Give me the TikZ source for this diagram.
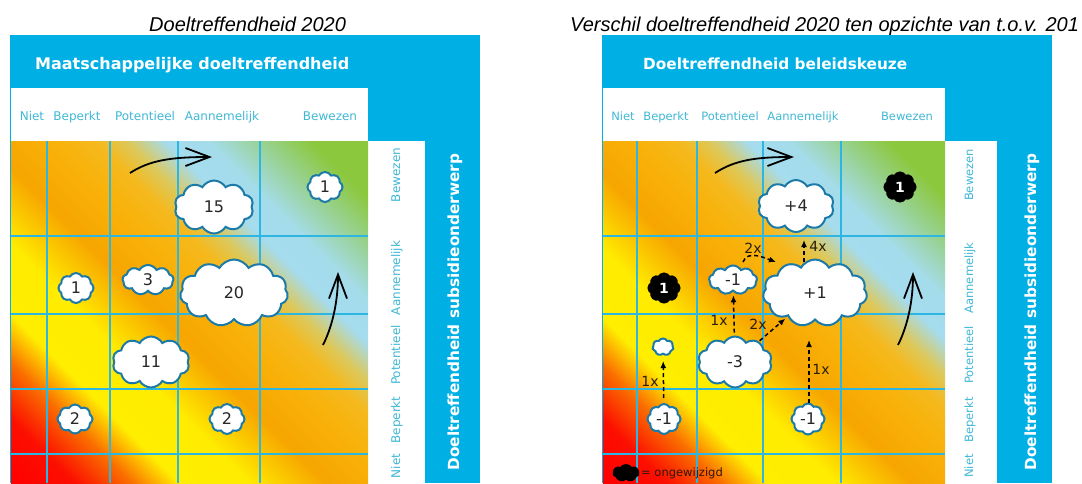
\documentclass[tikz,border=0pt]{standalone}
\usepackage{fontspec}
\setmainfont{DejaVu Sans}
\newfontfamily\titlefont{Liberation Sans}
\usetikzlibrary{shapes.symbols,arrows.meta,calc}
\definecolor{frameblue}{RGB}{0,176,229}
\definecolor{gridblue}{RGB}{45,182,226}
\definecolor{lbltext}{RGB}{64,184,214}
\definecolor{cloudedge}{RGB}{28,122,168}
\definecolor{labeldark}{RGB}{40,30,10}
\definecolor{legtext}{RGB}{50,20,10}
\definecolor{gA}{RGB}{255,0,0}
\definecolor{gB}{RGB}{252,15,0}
\definecolor{gC}{RGB}{250,110,0}
\definecolor{gD}{RGB}{255,238,0}
\definecolor{gE}{RGB}{255,236,0}
\definecolor{gF}{RGB}{247,165,0}
\definecolor{gG}{RGB}{248,178,10}
\definecolor{gH}{RGB}{245,185,30}
\definecolor{gHH}{RGB}{220,200,90}
\definecolor{gI}{RGB}{165,220,238}
\definecolor{gJ}{RGB}{165,220,236}
\definecolor{gK}{RGB}{140,200,62}
\pgfdeclarehorizontalshading{gridshade}{100bp}{color(0bp)=(gA); color(14.65bp)=(gA); color(21bp)=(gB); color(26.7bp)=(gC); color(31.6bp)=(gD); color(38.7bp)=(gE); color(46.5bp)=(gF); color(53.5bp)=(gG); color(57.8bp)=(gH); color(61bp)=(gHH); color(64.9bp)=(gI); color(69.1bp)=(gJ); color(79.7bp)=(gK); color(100bp)=(gK)}
\tikzset{
  cl/.style={cloud, cloud puffs=10, cloud puff arc=120, cloud ignores aspect, draw=cloudedge, line width=2pt, fill=white, inner sep=0pt, text=black!85, font=\fontsize{16}{16}\selectfont},
  bcl/.style={cl, draw=black, fill=black, text=white, font=\bfseries\fontsize{14}{14}\selectfont},
  colhdr/.style={text=lbltext, font=\fontsize{12}{12}\selectfont, anchor=base, inner sep=0pt},
  colhdrr/.style={colhdr, font=\fontsize{11.5}{12}\selectfont},
  rowhdr/.style={colhdr, rotate=90},
  rowhdrr/.style={colhdrr, rotate=90},
  bighdr/.style={text=white, font=\bfseries\fontsize{16}{16}\selectfont, anchor=base west, inner sep=0pt},
  sidehdr/.style={text=white, font=\bfseries\fontsize{15.3}{16}\selectfont, anchor=base, rotate=90, inner sep=0pt},
  ttl/.style={font=\titlefont\itshape\fontsize{20}{20}\selectfont, anchor=base west, inner sep=0pt},
  trend/.style={line width=1.8pt, -{Straight Barb[length=24pt,width=18pt,line width=1.8pt]}},
  dar/.style={dash pattern=on 4pt off 3pt, line width=1.5pt, -{Latex[length=7pt,width=6pt]}},
  ax/.style={font=\fontsize{14}{14}\selectfont, text=labeldark, inner sep=0pt},
  gl/.style={draw=gridblue, line width=1.3pt},
  grad/.style={shading=gridshade, shading angle=45},
}
\begin{document}
\begin{tikzpicture}[x=1pt,y=-1pt]
\useasboundingbox (0,0) rectangle (1082,483);
\fill[white] (0,0) rectangle (1082,483);
% ---------------- left panel ----------------
\node[ttl] (t1) at (149,31) {Doeltreffendheid 2020};
\fill[frameblue] (10,35) rectangle (480,483);
\fill[white] (11,88) rectangle (368,141);
\fill[white] (368,141) rectangle (425,483);
\shade[grad] (11,141) rectangle (368,483);
\foreach \x in {47,110,178,260} \draw[gl] (\x,141) -- (\x,483);
\foreach \y in {236,314,389,454} \draw[gl] (11,\y) -- (368,\y);
\node[bighdr] (h1) at (35,69) {Maatschappelijke doeltreffendheid};
\node[colhdr] (lc1) at (32,120) {Niet};
\node[colhdr] (lc2) at (77,120) {Beperkt};
\node[colhdr] (lc3) at (145,120) {Potentieel};
\node[colhdr] (lc4) at (222,120) {Aannemelijk};
\node[colhdr] (lc5) at (330,120) {Bewezen};
\node[rowhdr] (lr5) at (400,175) {Bewezen};
\node[rowhdr] (lr4) at (400,278) {Aannemelijk};
\node[rowhdr] (lr3) at (400,355) {Potentieel};
\node[rowhdr] (lr2) at (400,420) {Beperkt};
\node[rowhdr] (lr1) at (400,466) {Niet};
\node[sidehdr] (s1) at (459,312) {Doeltreffendheid subsidieonderwerp};
\coordinate (lt1) at (130,173); \coordinate (lt2) at (212,157);
\draw[trend] (lt1) .. controls (150,160) and (172,157) .. (lt2);
\coordinate (lu1) at (323,345); \coordinate (lu2) at (338,272);
\draw[trend] (lu1) .. controls (333,325) and (338,300) .. (lu2);
\node[cl, minimum width=79pt, minimum height=53pt] (c15) at (214,207) {15};
\node[cl, cloud puffs=8, minimum width=35pt, minimum height=30pt] (c1a) at (325,187) {1};
\node[cl, cloud puffs=8, minimum width=35pt, minimum height=30pt] (c1b) at (76,288) {1};
\node[cl, cloud puffs=9, minimum width=51pt, minimum height=30pt] (c3) at (148,280) {3};
\node[cl, cloud puffs=11, minimum width=108pt, minimum height=67pt] (c20) at (234,293) {20};
\node[cl, minimum width=77pt, minimum height=51pt] (c11) at (151,362) {11};
\node[cl, cloud puffs=8, minimum width=35pt, minimum height=29pt] (c2a) at (75,419) {2};
\node[cl, cloud puffs=8, minimum width=35pt, minimum height=30pt] (c2b) at (227,419) {2};
% ---------------- right panel ----------------
\node[ttl] (t2) at (570,31) {Verschil doeltreffendheid 2020 ten opzichte van t.o.v. 201};
\fill[frameblue] (602,35) rectangle (1052,483);
\fill[white] (603,88) rectangle (945,141);
\fill[white] (945,141) rectangle (997,483);
\shade[grad] (603,141) rectangle (945,483);
\foreach \x in {637,697,763,841} \draw[gl] (\x,141) -- (\x,483);
\foreach \y in {236,314,389,454} \draw[gl] (603,\y) -- (945,\y);
\node[bighdr, font=\bfseries\fontsize{15.3}{16}\selectfont] (h2) at (643,69) {Doeltreffendheid beleidskeuze};
\node[colhdrr] (rc1) at (623,120) {Niet};
\node[colhdrr] (rc2) at (666,120) {Beperkt};
\node[colhdrr] (rc3) at (730,120) {Potentieel};
\node[colhdrr] (rc4) at (803,120) {Aannemelijk};
\node[colhdrr] (rc5) at (907,120) {Bewezen};
\node[rowhdrr] (rr5) at (973,175) {Bewezen};
\node[rowhdrr] (rr4) at (973,278) {Aannemelijk};
\node[rowhdrr] (rr3) at (973,355) {Potentieel};
\node[rowhdrr] (rr2) at (973,420) {Beperkt};
\node[rowhdrr] (rr1) at (973,466) {Niet};
\node[sidehdr] (s2) at (1036,312) {Doeltreffendheid subsidieonderwerp};
\coordinate (rt1) at (715,173); \coordinate (rt2) at (794,157);
\draw[trend] (rt1) .. controls (735,160) and (756,157) .. (rt2);
\coordinate (ru1) at (898,345); \coordinate (ru2) at (913,272);
\draw[trend] (ru1) .. controls (908,325) and (913,300) .. (ru2);
\node[cl, minimum width=76pt, minimum height=52pt] (p4) at (796,206) {+4};
\node[bcl, cloud puffs=8, minimum width=31pt, minimum height=29pt] (b1a) at (900,187) {1};
\node[bcl, cloud puffs=8, minimum width=31pt, minimum height=29pt] (b1b) at (664,288) {1};
\node[cl, cloud puffs=9, minimum width=48pt, minimum height=29pt] (m1b) at (733,280) {-1};
\node[cl, cloud puffs=11, minimum width=104pt, minimum height=67pt] (p1) at (815,293) {+1};
\node[cl, cloud puffs=7, minimum width=21pt, minimum height=17pt] (sm) at (663,347) {};
\node[cl, minimum width=74pt, minimum height=51pt] (m3) at (735,362) {-3};
\node[cl, cloud puffs=8, minimum width=33pt, minimum height=30pt] (m1a) at (664,419) {-1};
\node[cl, cloud puffs=8, minimum width=33pt, minimum height=31pt] (m1c) at (808,419) {-1};
\draw[dar, shorten <=5pt, shorten >=6pt] (m1a) -- (sm);
\draw[dar, shorten <=3pt, shorten >=3pt] (m3) -- (m1b);
\draw[dar, shorten <=1pt, shorten >=3pt] (m3) -- (p1);
\draw[dar] ($(m1b.center)+(10,-18)$) to[out=70,in=160] ($(p1.center)+(-39,-31)$);
\draw[dar] ($(p1.center)+(-11,-31)$) -- ($(p4.center)+(8,34)$);
\draw[dar] ($(m1c.center)+(1,-16)$) -- ($(p1.center)+(-6,47)$);
\node[ax] (x1) at (650,381) {1x};
\node[ax] (x2) at (719,320) {1x};
\node[ax] (x3) at (758,324) {2x};
\node[ax] (x4) at (753,248) {2x};
\node[ax] (x5) at (818,246) {4x};
\node[ax] (x6) at (821,369) {1x};
\node[bcl, cloud puffs=7, minimum width=25pt, minimum height=16pt] (lg) at (626,473) {};
\node[anchor=base west, font=\fontsize{11.5}{12}\selectfont, text=legtext, inner sep=0pt] (lgt) at (641,476) {= ongewijzigd};
\end{tikzpicture}
\end{document}
